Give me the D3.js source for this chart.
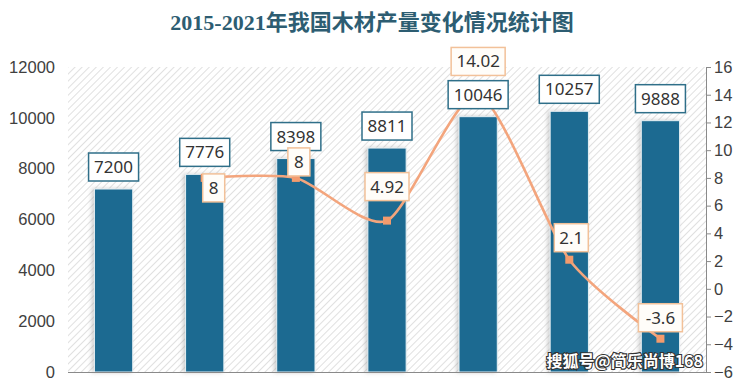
<!DOCTYPE html>
<html><head><meta charset="utf-8">
<script src="https://cdn.jsdelivr.net/npm/d3@7"></script>
<style>
html,body{margin:0;padding:0;background:#fff;}
svg{display:block;}
</style></head>
<body>
<svg id="chart" width="744" height="381"></svg>
<script>
const years = ["2015","2016","2017","2018","2019","2020","2021"];
const output = [7200, 7776, 8398, 8811, 10046, 10257, 9888];
const growthYears = ["2016","2017","2018","2019","2020","2021"];
const growth = [8, 8, 4.92, 14.02, 2.1, -3.6];
const leftTicks = [0, 2000, 4000, 6000, 8000, 10000, 12000];
const rightTicks = [-6,-4,-2,0,2,4,6,8,10,12,14,16];
const title = "2015-2021年我国木材产量变化情况统计图";

const svg = d3.select("#chart");
const W = 744, H = 381;
const m = {l:68, r:706, t:67, b:372};

const defs = svg.append("defs");
const pat = defs.append("pattern").attr("id","hatch").attr("patternUnits","userSpaceOnUse")
  .attr("width",5).attr("height",5).attr("patternTransform","rotate(45)");
pat.append("rect").attr("width",5).attr("height",5).attr("fill","#ffffff");
pat.append("line").attr("x1",0).attr("y1",0).attr("x2",0).attr("y2",5)
  .attr("stroke","#d9d9d9").attr("stroke-width",1.6);
const sh = defs.append("filter").attr("id","shadow").attr("x","-30%").attr("y","-10%").attr("width","160%").attr("height","120%");
sh.append("feDropShadow").attr("dx",-2).attr("dy",0).attr("stdDeviation",2).attr("flood-color","#999").attr("flood-opacity",0.5);

svg.append("rect").attr("width",W).attr("height",H).attr("fill","#fff");

// title
svg.append("text").attr("x",372).attr("y",30).attr("text-anchor","middle")
  .attr("font-family","'Liberation Serif','Noto Sans CJK SC',serif").attr("font-weight","bold")
  .attr("font-size",22).attr("fill","#2d5d72").text(title);

// plot background
svg.append("rect").attr("x",m.l).attr("y",m.t).attr("width",m.r-m.l).attr("height",m.b-m.t).attr("fill","url(#hatch)");

const x = d3.scaleBand().domain(years).range([m.l,m.r]).paddingInner(0.58).paddingOuter(0.29);
const yL = d3.scaleLinear().domain([0,12000]).range([m.b,m.t]);
const yR = d3.scaleLinear().domain([-6,16]).range([m.b,m.t]);

const tickFont = "'Liberation Sans',Arial,sans-serif";
// left axis
const la = svg.append("g").attr("transform",`translate(${m.l},0)`)
  .call(d3.axisLeft(yL).tickValues(leftTicks).tickSize(0).tickPadding(13).tickFormat(d3.format("d")));
la.select(".domain").remove();
la.selectAll("text").attr("font-family",tickFont).attr("font-size",16.5).attr("fill","#404040");

// right axis
const ra = svg.append("g").attr("transform",`translate(${m.r},0)`)
  .call(d3.axisRight(yR).tickValues(rightTicks).tickSize(5).tickPadding(3).tickFormat(d3.format("d")));
ra.select(".domain").attr("stroke","#8a8a8a");
ra.selectAll(".tick line").attr("stroke","#8a8a8a");
ra.selectAll("text").attr("font-family",tickFont).attr("font-size",16.5).attr("fill","#404040");

// bars
svg.append("g").selectAll("rect").data(years).join("rect")
  .attr("x",d=>x(d)).attr("width",x.bandwidth())
  .attr("y",(d,i)=>yL(output[i])).attr("height",(d,i)=>yL(0)-yL(output[i]))
  .attr("fill","#1c6a91").attr("stroke","#e8f1f5").attr("stroke-width",1)
  .attr("filter","url(#shadow)");

// baseline
svg.append("line").attr("x1",m.l).attr("x2",m.r).attr("y1",m.b+0.5).attr("y2",m.b+0.5).attr("stroke","#8a8a8a").attr("stroke-width",1.2);

// growth line
const cx = d => x(d)+x.bandwidth()/2;
const line = d3.line().x((d,i)=>cx(growthYears[i])).y(d=>yR(d)).curve(d3.curveCardinal.tension(0.3));
svg.append("path").datum(growth).attr("d",line).attr("fill","none").attr("stroke","#f3a57d").attr("stroke-width",2.6);
svg.append("g").selectAll("rect").data(growth).join("rect")
  .attr("x",(d,i)=>cx(growthYears[i])-4).attr("y",d=>yR(d)-4).attr("width",8).attr("height",8)
  .attr("fill","#f39b6d");

function box(g, cxp, cyp, txt, w, stroke, fill){
  g.append("rect").attr("x",cxp-w/2).attr("y",cyp-14).attr("width",w).attr("height",28)
    .attr("fill",fill).attr("stroke",stroke).attr("stroke-width",1.5);
  g.append("text").attr("x",cxp).attr("y",cyp+6).attr("text-anchor","middle")
    .attr("font-family","'Noto Sans','Open Sans',sans-serif").attr("font-size",17).attr("fill","#333").text(txt);
}

// bar labels
const bl = svg.append("g");
years.forEach((yv,i)=>{
  const s = String(output[i]);
  box(bl, cx(yv), yL(output[i])-22, s, s.length*10+10, "#2f6f89", "#ffffff");
});

// line labels
const llOffsets = [[9,10],[3,-16],[0,-34],[0,-33],[2,-22],[0,-21]];
const ll = svg.append("g");
growth.forEach((v,i)=>{
  const s = String(v);
  const w = Math.max(22, s.replace(".","").length*10+ (s.includes(".")?14:10));
  box(ll, cx(growthYears[i])+llOffsets[i][0], yR(v)+llOffsets[i][1], s, w, "#f2c199", "#fffdf9");
});

// watermark text
svg.append("text").attr("x",703).attr("y",367).attr("text-anchor","end")
  .attr("font-family","'Noto Sans CJK SC',sans-serif").attr("font-size",16).attr("font-weight","bold")
  .attr("fill","#ffffff").attr("stroke","#333").attr("stroke-width",2.2).attr("paint-order","stroke")
  .text("搜狐号@简乐尚博168");
</script>
</body></html>
